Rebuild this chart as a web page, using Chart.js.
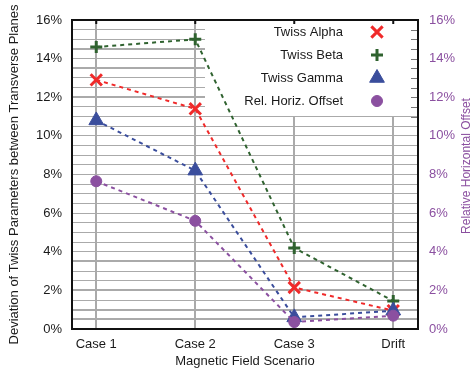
<!DOCTYPE html>
<html>
<head>
<meta charset="utf-8">
<script src="https://cdn.jsdelivr.net/npm/chart.js@4"></script>
<style>
  html, body { margin: 0; padding: 0; background: #fff; }
  #wrap { width: 470px; height: 369px; }
</style>
</head>
<body>
<div id="wrap"><canvas id="chart" width="470" height="369"></canvas></div>
<script>
const categories = ['Case 1', 'Case 2', 'Case 3', 'Drift'];
const twissAlpha = [12.9, 11.4, 2.15, 0.95];
const twissBeta = [14.6, 15.0, 4.2, 1.45];
const twissGamma = [10.8, 8.2, 0.6, 0.95];
const relHorizOffset = [7.65, 5.6, 0.36, 0.69];
const thickGrid = [14.5, 13.5, 12, 3.5, 2, 1, 0.5];

const FONT = '"Liberation Sans", Arial, sans-serif';
const TEXT = '#1a1a1a';
const RED = '#f02a2a', GREEN = '#2f622f', BLUE = '#3a4d9c', PURPLE = '#8b50a0';

function pts(arr) { return arr.map((v, i) => ({ x: i, y: v })); }

function series(label, arr, color, style, radius, bw, axis, order) {
  return {
    label: label,
    data: pts(arr),
    yAxisID: axis,
    borderColor: color,
    backgroundColor: color,
    borderWidth: 2,
    borderDash: [4, 4],
    pointStyle: style,
    pointRadius: radius,
    pointHoverRadius: radius,
    pointBorderWidth: bw,
    pointBorderColor: color,
    pointBackgroundColor: color,
    order: order
  };
}

// white legend box on top of the grid, with the labels on the left of markers
const legendBox = {
  id: 'legendBox',
  beforeDatasetsDraw(chart) {
    const c = chart.ctx, a = chart.chartArea;
    c.save();
    c.fillStyle = '#fff';
    c.fillRect(205, a.top + 1, a.right - 206, 95);
    // right axis minor ticks inside the box
    c.strokeStyle = '#777';
    c.lineWidth = 1;
    const y2 = chart.scales.y2;
    for (let v = 11; v <= 16; v += 0.5) {
      const y = Math.round(y2.getPixelForValue(v)) + 0.5;
      c.beginPath();
      c.moveTo(a.right - 7, y);
      c.lineTo(a.right, y);
      c.stroke();
    }
    // top ticks
    c.strokeStyle = '#111';
    c.lineWidth = 2;
    const xs = chart.scales.x;
    categories.forEach((_, i) => {
      const x = xs.getPixelForValue(i);
      c.beginPath();
      c.moveTo(x, a.top);
      c.lineTo(x, a.top + 4);
      c.stroke();
    });
    // frame top and right
    c.beginPath();
    c.moveTo(a.left, a.top);
    c.lineTo(a.right, a.top);
    c.lineTo(a.right, a.bottom);
    c.stroke();
    c.restore();
  },
  afterDraw(chart) {
    const c = chart.ctx;
    c.save();
    c.font = '13px ' + FONT;
    c.textAlign = 'right';
    c.textBaseline = 'middle';
    chart.data.datasets.forEach((ds, i) => {
      const y = 32 + i * 23;
      c.fillStyle = TEXT;
      c.fillText(ds.label, 343, y);
      c.fillStyle = ds.pointBackgroundColor;
      c.strokeStyle = ds.pointBorderColor;
      c.lineWidth = ds.pointBorderWidth;
      Chart.helpers.drawPoint(c, {
        pointStyle: ds.pointStyle,
        radius: ds.pointRadius,
        borderWidth: ds.pointBorderWidth
      }, 377, y);
    });
    // right axis title, reading upwards
    c.translate(467, 166);
    c.rotate(-Math.PI / 2);
    c.textAlign = 'center';
    c.textBaseline = 'middle';
    c.fillStyle = PURPLE;
    c.font = '12px ' + FONT;
    c.fillText('Relative Horizontal Offset', 0, 0);
    c.restore();
  }
};

new Chart(document.getElementById('chart'), {
  type: 'line',
  data: {
    datasets: [
      series('Twiss Alpha', twissAlpha, RED, 'crossRot', 8, 3, 'y', 2),
      series('Twiss Beta', twissBeta, GREEN, 'cross', 6, 3, 'y', 3),
      series('Twiss Gamma', twissGamma, BLUE, 'triangle', 8.5, 1, 'y', 1),
      series('Rel. Horiz. Offset', relHorizOffset, PURPLE, 'circle', 5.5, 1, 'y2', 0)
    ]
  },
  plugins: [legendBox],
  options: {
    responsive: false,
    animation: false,
    layout: { padding: { top: 20, left: 0, right: 0, bottom: 0 } },
    plugins: {
      legend: { display: false },
      tooltip: { enabled: false }
    },
    scales: {
      x: {
        type: 'linear',
        min: -0.245,
        max: 3.25,
        afterFit(s) { s.height = 40; },
        afterBuildTicks(s) { s.ticks = categories.map((_, i) => ({ value: i })); },
        ticks: {
          padding: 8,
          color: TEXT,
          font: { family: FONT, size: 13 },
          callback: v => categories[v]
        },
        grid: { color: '#aaa', lineWidth: 2, drawTicks: false },
        border: { color: '#111', width: 2 },
        title: {
          display: true,
          text: 'Magnetic Field Scenario',
          color: TEXT,
          font: { family: FONT, size: 13 },
          padding: { top: 0, bottom: 0 }
        }
      },
      y: {
        position: 'left',
        min: 0,
        max: 16,
        afterFit(s) { s.width = 72; },
        afterBuildTicks(s) {
          const t = [];
          for (let v = 0; v <= 16; v += 0.5) t.push({ value: v });
          s.ticks = t;
        },
        ticks: {
          padding: 10,
          autoSkip: false,
          color: TEXT,
          font: { family: FONT, size: 13 },
          callback: v => (v % 2 === 0 ? v + '%' : '')
        },
        grid: {
          drawTicks: false,
          color: '#aaa',
          lineWidth: ctx => (thickGrid.includes(ctx.tick && ctx.tick.value) ? 2 : 1)
        },
        border: { color: '#111', width: 2 },
        title: {
          display: true,
          text: 'Deviation of Twiss Parameters between Transverse Planes',
          color: TEXT,
          font: { family: FONT, size: 13 },
          padding: { top: 7, bottom: 0 }
        }
      },
      y2: {
        position: 'right',
        min: 0,
        max: 16,
        afterFit(s) { s.width = 52; },
        afterBuildTicks(s) {
          const t = [];
          for (let v = 0; v <= 16; v += 2) t.push({ value: v });
          s.ticks = t;
        },
        ticks: {
          padding: 11,
          color: PURPLE,
          font: { family: FONT, size: 13 },
          callback: v => v + '%'
        },
        grid: { drawOnChartArea: false, drawTicks: false },
        border: { color: '#111', width: 2 }
      }
    }
  }
});
</script>
</body>
</html>
